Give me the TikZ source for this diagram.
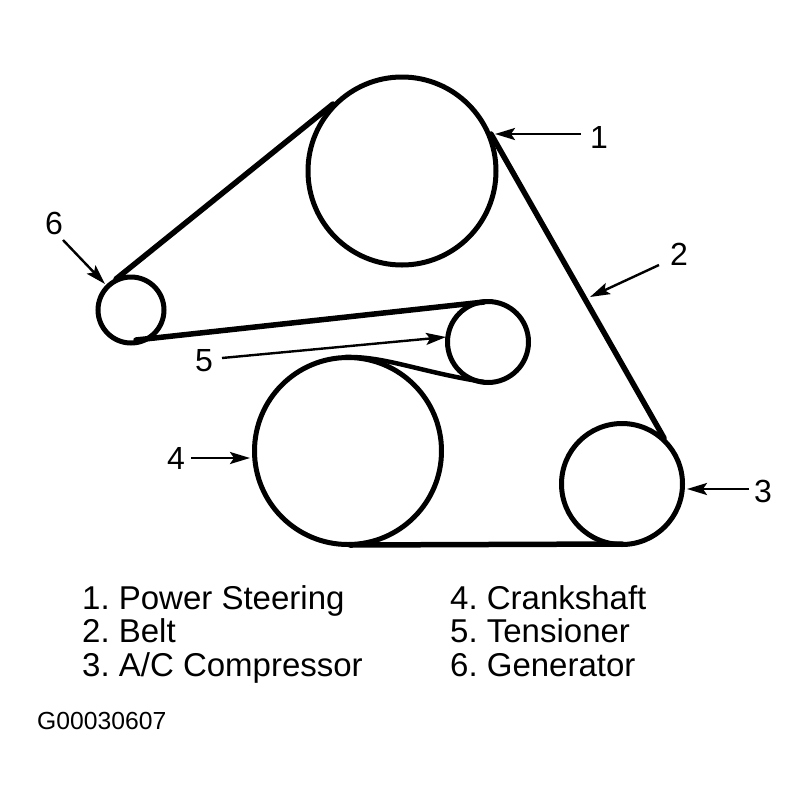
\documentclass[tikz,border=0pt]{standalone}
\usepackage{fontspec}
\setmainfont{Liberation Sans}
\usetikzlibrary{arrows.meta}
\begin{document}
\frenchspacing
\begin{tikzpicture}[x=1pt,y=-1pt,
  pulley/.style={circle,draw=black,line width=5pt,inner sep=0pt,fill=none},
  beltline/.style={line width=5.5pt,line cap=round},
  lead/.style={line width=2.4pt,-{Stealth[length=20pt,width=12pt,inset=4pt]}},
  num/.style={font=\fontsize{32}{36}\selectfont,inner sep=0pt},
  legend/.style={font=\fontsize{33}{36}\selectfont,anchor=base west,inner sep=0pt}]
\useasboundingbox (0,0) rectangle (809,804);
\node[pulley,minimum size=188pt] (ps) at (402,171) {};
\node[pulley,minimum size=66pt] (gen) at (131,310) {};
\node[pulley,minimum size=81pt] (ten) at (488,342) {};
\node[pulley,minimum size=187pt] (crank) at (348,451) {};
\node[pulley,minimum size=121pt] (ac) at (622,484) {};
% belt spans
\coordinate (b1a) at (116,279); \coordinate (b1b) at (333,104);
\coordinate (b2a) at (491,134); \coordinate (b2b) at (664,438);
\coordinate (b3a) at (622,544); \coordinate (b3b) at (350,545);
\coordinate (b4a) at (136,340); \coordinate (b4b) at (484,302);
\coordinate (b5a) at (345,357); \coordinate (b5b) at (484,382);
\draw[beltline] (b1a) -- (b1b);
\draw[beltline] (b2a) -- (b2b);
\draw[beltline] (b3a) -- (b3b);
\draw[beltline] (b4a) -- (b4b);
\draw[beltline,line width=4.5pt] (b5a) .. controls (385,356) and (420,372) .. (b5b);
% labels and leaders
\node[num] (n1) at (599,137) {1};
\coordinate (t1) at (495,134);
\draw[lead] (581,134) -- (t1);
\node[num] (n2) at (679,254) {2};
\coordinate (t2) at (590,297);
\draw[lead] (659,265) -- (t2);
\node[num] (n3) at (763,491) {3};
\coordinate (t3) at (687,489);
\draw[lead] (749,489) -- (t3);
\node[num] (n4) at (176,458) {4};
\coordinate (t4) at (250,458);
\draw[lead] (191,458) -- (t4);
\node[num] (n5) at (204,361) {5};
\coordinate (t5) at (446,337);
\draw[lead] (222,358) -- (t5);
\node[num] (n6) at (54,223) {6};
\coordinate (t6) at (105,284);
\draw[lead] (63,240) -- (t6);
% legend
\node[legend] (l1) at (82,609) {1. Power Steering};
\node[legend] (l2) at (82,642) {2. Belt};
\node[legend] (l3) at (82,676) {3. A/C Compressor};
\node[legend] (l4) at (450,609) {4. Crankshaft};
\node[legend] (l5) at (450,642) {5. Tensioner};
\node[legend] (l6) at (450,676) {6. Generator};
\node[anchor=base west,inner sep=0pt,font=\fontsize{24.7}{28}\selectfont] (code) at (37,729) {G00030607};
\end{tikzpicture}
\end{document}
